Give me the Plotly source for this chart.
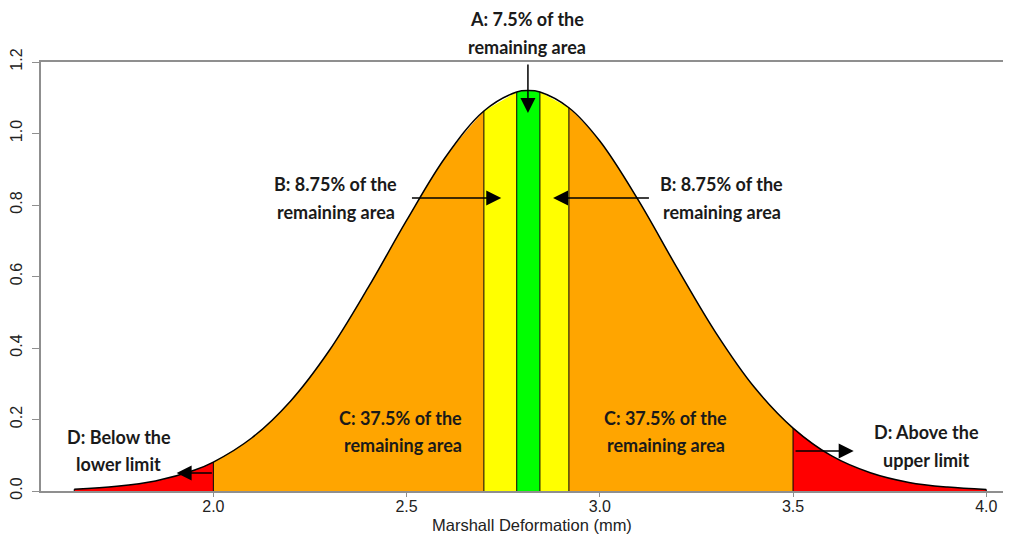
import plotly.graph_objects as go

# ---- data ----
x_pts = [1.64, 1.75, 1.85, 1.95, 2.0, 2.1, 2.2, 2.3, 2.4, 2.5, 2.6, 2.7, 2.785, 2.815,
         2.845, 2.92, 3.0, 3.1, 3.2, 3.3, 3.4, 3.5, 3.6, 3.7, 3.8, 3.9, 4.0]
y_pts = [0.005, 0.013, 0.028, 0.058, 0.081, 0.149, 0.252, 0.393, 0.568, 0.757, 0.933, 1.063,
         1.116, 1.12, 1.116, 1.072, 0.979, 0.813, 0.624, 0.443, 0.290, 0.176, 0.098, 0.051,
         0.024, 0.011, 0.0044]

region_bounds = [(1.64, 2.0), (2.0, 2.7), (2.7, 2.785), (2.785, 2.845), (2.845, 2.92),
                 (2.92, 3.5), (3.5, 4.0)]
region_colors = ["#FF0000", "#FFA500", "#FFFF00", "#00FF00", "#FFFF00", "#FFA500", "#FF0000"]
boundaries = [1.64, 2.0, 2.7, 2.785, 2.845, 2.92, 3.5, 4.0]

x_ticks = [2.0, 2.5, 3.0, 3.5, 4.0]
x_tick_text = ["2.0", "2.5", "3.0", "3.5", "4.0"]
y_ticks = [0.0, 0.2, 0.4, 0.6, 0.8, 1.0, 1.2]
y_tick_text = ["0.0", "0.2", "0.4", "0.6", "0.8", "1.0", "1.2"]
x_title = "Marshall Deformation (mm)"

# labels inside the plot: (text line, x, y)
labels = [
    ("B: 8.75% of the", 2.317, 0.859), ("remaining area", 2.318, 0.780),
    ("B: 8.75% of the", 3.314, 0.859), ("remaining area", 3.317, 0.780),
    ("C: 37.5% of the", 2.485, 0.205), ("remaining area", 2.490, 0.129),
    ("C: 37.5% of the", 3.170, 0.205), ("remaining area", 3.170, 0.129),
    ("D: Below the", 1.755, 0.152), ("lower limit", 1.755, 0.0755),
    ("D: Above the", 3.845, 0.164), ("upper limit", 3.845, 0.0867),
]
# labels above the plot: (text line, x, paper y)
top_labels = [("A: 7.5% of the", 2.812, 1.1002), ("remaining area", 2.812, 1.035)]
# arrows: (tail x, tail y, head x, head y)
arrows = [
    (2.814, 1.197, 2.814, 1.057),
    (2.510, 0.8196, 2.745, 0.8196),
    (3.131, 0.8196, 2.879, 0.8196),
    (2.000, 0.0503, 1.905, 0.0503),
    (3.5026, 0.112, 3.657, 0.112),
]

fig = go.Figure()

for (a, b), col in zip(region_bounds, region_colors):
    xs = [x for x in x_pts if a <= x <= b]
    ys = [y for x, y in zip(x_pts, y_pts) if a <= x <= b]
    fig.add_trace(go.Scatter(x=xs, y=ys, mode="lines", line=dict(width=0, shape="spline"),
                             fill="tozeroy", fillcolor=col, hoverinfo="skip", showlegend=False))

for bnd in boundaries:
    yb = y_pts[x_pts.index(bnd)]
    fig.add_trace(go.Scatter(x=[bnd, bnd], y=[0, yb], mode="lines",
                             line=dict(color="black", width=1), hoverinfo="skip", showlegend=False))

fig.add_trace(go.Scatter(x=x_pts, y=y_pts, mode="lines",
                         line=dict(color="black", width=1.5, shape="spline"),
                         hoverinfo="skip", showlegend=False))

label_font = dict(family="Lato", size=18, color="#1a1a1a")
for txt, x, y in labels:
    fig.add_annotation(x=x, y=y, xref="x", yref="y", text=f"<b>{txt}</b>", showarrow=False,
                       font=label_font)
for txt, x, y in top_labels:
    fig.add_annotation(x=x, y=y, xref="x", yref="paper", text=f"<b>{txt}</b>", showarrow=False,
                       yanchor="middle", font=label_font)

for tx, ty, hx, hy in arrows:
    fig.add_annotation(x=hx, y=hy, ax=tx, ay=ty, xref="x", yref="y", axref="x", ayref="y",
                       text="", showarrow=True, arrowhead=2, arrowsize=2.0, arrowwidth=1.5,
                       arrowcolor="black", standoff=0, startstandoff=0)

# x-axis title
fig.add_annotation(x=2.825, y=-0.0793, xref="x", yref="paper", text=x_title, showarrow=False,
                   yanchor="middle",
                   font=dict(family="Liberation Sans", size=16.5, color="#222222"))

fig.update_layout(
    width=1003, height=531,
    margin=dict(l=29, r=0, t=54, b=48),
    paper_bgcolor="white", plot_bgcolor="white",
    xaxis=dict(range=[1.554, 4.064], showline=True, linecolor="#8f8f8f", linewidth=2,
               mirror=True, ticks="outside", ticklen=4, tickcolor="#8f8f8f", tickwidth=1,
               tickvals=x_ticks, ticktext=x_tick_text, showgrid=False, zeroline=False,
               ticklabelstandoff=-4,
               tickfont=dict(family="Liberation Sans", size=16, color="#222222")),
    yaxis=dict(range=[0, 1.2], showline=True, linecolor="#8f8f8f", linewidth=2,
               ticks="outside", ticklen=7, tickcolor="#8f8f8f", tickwidth=1,
               tickvals=y_ticks, ticktext=y_tick_text, tickangle=-90, ticklabelstandoff=4,
               showgrid=False, zeroline=False,
               tickfont=dict(family="Liberation Sans", size=16, color="#222222")),
)

fig.write_html("out.html")
